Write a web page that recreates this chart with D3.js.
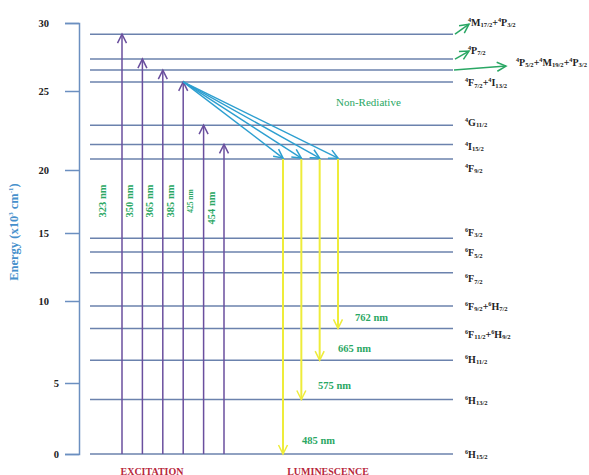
<!DOCTYPE html>
<html>
<head>
<meta charset="utf-8">
<script src="https://cdn.jsdelivr.net/npm/d3@7"></script>
<style>
  body { margin: 0; background: #fff; }
  text { font-family: "Liberation Serif", "DejaVu Serif", serif; }
</style>
</head>
<body>
<script>
// energy levels (x10^3 cm-1)
var levelTerms = ["6H15/2", "6H13/2", "6H11/2", "6F11/2+6H9/2", "6F9/2+6H7/2", "6F7/2", "6F5/2", "6F3/2",
  "4F9/2", "4I15/2", "4G11/2", "4F7/2+4I13/2", "4P5/2+4M19/2+4P3/2", "4P7/2", "4M17/2+4P3/2"];
var levelEnergy = [0, 3.84, 6.39, 8.33, 9.69, 12.07, 13.61, 14.61, 20.69, 21.62, 22.84, 25.67, 26.54, 27.35, 29.18];

// excitation: wavelength (nm) -> upper level index
var excWavelength = ["323", "350", "365", "385", "425", "454"];
var excLevel = [14, 13, 12, 11, 10, 9];

// luminescence from 4F9/2 (index 8) -> lower level index
var emWavelength = ["485", "575", "665", "762"];
var emLevel = [0, 1, 2, 3];
var emFrom = 8;

var yTicks = [0, 5, 10, 15, 20, 25, 30];

var width = 589, height = 475;

var svg = d3.select("body").append("svg")
  .attr("width", width)
  .attr("height", height);

// the hand drawn axis is not evenly spaced, so piecewise scale
var y = d3.scaleLinear()
  .domain(yTicks)
  .range([454, 383, 301, 233, 170, 91, 23]);

var xExc = d3.scalePoint().domain(excWavelength).range([122, 224]);
var xEm = d3.scalePoint().domain(emWavelength).range([283, 338]);

var colors = {
  purple: "#6a4f9e",
  blue: "#2d9fd0",
  yellow: "#eeec3a",
  green: "#2aa764"
};

// open chevron arrow heads
var defs = svg.append("defs");
Object.keys(colors).forEach(function(k) {
  defs.append("marker")
    .attr("id", "arrow-" + k)
    .attr("viewBox", "-12 -7 14 14")
    .attr("refX", 0).attr("refY", 0)
    .attr("markerWidth", 14).attr("markerHeight", 14)
    .attr("markerUnits", "userSpaceOnUse")
    .attr("orient", "auto")
    .append("path")
    .attr("d", "M-9,-4.5L0,0L-9,4.5")
    .attr("fill", "none")
    .attr("stroke", colors[k])
    .attr("stroke-width", 1.5);
});

// y axis
var axis = svg.append("g")
  .attr("transform", "translate(79,0)")
  .call(d3.axisLeft(y).tickValues(yTicks).tickSize(14).tickPadding(16));
axis.select(".domain").attr("stroke", "#6b8fc0").attr("stroke-width", 1.5);
axis.selectAll(".tick line").attr("stroke", "#6b8fc0").attr("stroke-width", 1.5);
axis.selectAll(".tick text")
  .attr("font-family", "Liberation Serif")
  .attr("font-weight", "bold")
  .attr("font-size", 10.5)
  .attr("fill", "#222")
  .attr("dx", function(d) { return d < 10 ? 10 : 0; });

var ylab = svg.append("text")
  .attr("transform", "translate(18,232)rotate(-90)")
  .attr("text-anchor", "middle")
  .attr("font-weight", "bold")
  .attr("font-size", 12.5)
  .attr("fill", "#4690cc");
ylab.append("tspan").text("Energy (x10");
ylab.append("tspan").attr("font-size", 7).attr("dy", -5).text("3");
ylab.append("tspan").attr("dy", 5).text(" cm");
ylab.append("tspan").attr("font-size", 7).attr("dy", -5).text("-1");
ylab.append("tspan").attr("dy", 5).text(")");

// level lines
svg.append("g").selectAll("line")
  .data(levelEnergy)
  .enter().append("line")
  .attr("x1", 90).attr("x2", 453)
  .attr("y1", function(d) { return y(d); })
  .attr("y2", function(d) { return y(d); })
  .attr("stroke", "#6b82ad")
  .attr("stroke-width", 1.5);

// term labels with super/subscripts
function termLabel(t, str, size) {
  var shift = 0;
  function part(txt, fs, off) {
    t.append("tspan").attr("font-size", fs).attr("dy", off - shift).text(txt);
    shift = off;
  }
  str.split("+").forEach(function(p, i) {
    var m = p.match(/^(\d)([A-Z])(.+)$/);
    if (i > 0) part("+", size, 0);
    part(m[1], size * 0.62, -size * 0.4);
    part(m[2], size, 0);
    part(m[3], size * 0.66, size * 0.15);
  });
}

var labelDy = [0, 1, -1, 6, 0, 6, 1, -6, 9, 2, -3, 1, -8, -9, -12];
var labelX = function(i) { return i === 12 ? 516 : (i > 12 ? 468 : 465); };

svg.append("g").selectAll("text")
  .data(levelTerms)
  .enter().append("text")
  .attr("x", function(d, i) { return labelX(i); })
  .attr("y", function(d, i) { return y(levelEnergy[i]) + labelDy[i] + 3.5; })
  .attr("font-weight", "bold")
  .attr("fill", "#222")
  .each(function(d) { termLabel(d3.select(this), d, 10); });

// green arrows out of the top levels
var topArrows = [
  { i: 14, x1: 455, dx: 14, dy: -10 },
  { i: 13, x1: 455, dx: 14, dy: -8 },
  { i: 12, x1: 454, dx: 52, dy: -4 }
];
svg.append("g").selectAll("line")
  .data(topArrows)
  .enter().append("line")
  .attr("x1", function(d) { return d.x1; })
  .attr("y1", function(d) { return y(levelEnergy[d.i]); })
  .attr("x2", function(d) { return d.x1 + d.dx; })
  .attr("y2", function(d) { return y(levelEnergy[d.i]) + d.dy; })
  .attr("stroke", colors.green)
  .attr("stroke-width", 1.5)
  .attr("marker-end", "url(#arrow-green)");

// excitation arrows
svg.append("g").selectAll("line")
  .data(excWavelength)
  .enter().append("line")
  .attr("x1", function(d) { return xExc(d); })
  .attr("x2", function(d) { return xExc(d); })
  .attr("y1", y(0))
  .attr("y2", function(d, i) { return y(levelEnergy[excLevel[i]]); })
  .attr("stroke", colors.purple)
  .attr("stroke-width", 1.5)
  .attr("marker-end", "url(#arrow-purple)");

svg.append("g").selectAll("text")
  .data(excWavelength)
  .enter().append("text")
  .attr("transform", function(d, i) {
    var off = i === 0 ? 20 : 13;
    return "translate(" + (xExc(d) - off) + "," + (i === 5 ? 208 : 201) + ")rotate(-90)";
  })
  .attr("text-anchor", "middle")
  .attr("dy", "0.35em")
  .attr("font-weight", "bold")
  .attr("font-size", function(d) { return d === "425" ? 7.5 : 10.5; })
  .attr("fill", colors.green)
  .text(function(d) { return d + " nm"; });

// non-radiative relaxation 4F7/2 -> 4F9/2
var srcX = xExc("385"), srcY = y(levelEnergy[11]);
svg.append("g").selectAll("line")
  .data(emWavelength)
  .enter().append("line")
  .attr("x1", srcX)
  .attr("y1", srcY)
  .attr("x2", function(d) { return xEm(d); })
  .attr("y2", y(levelEnergy[emFrom]) - 1)
  .attr("stroke", colors.blue)
  .attr("stroke-width", 1.4)
  .attr("marker-end", "url(#arrow-blue)");

svg.append("text")
  .attr("x", 336).attr("y", 106)
  .attr("font-size", 11)
  .attr("fill", colors.green)
  .text("Non-Rediative");

// luminescence arrows
svg.append("g").selectAll("line")
  .data(emWavelength)
  .enter().append("line")
  .attr("x1", function(d) { return xEm(d); })
  .attr("x2", function(d) { return xEm(d); })
  .attr("y1", y(levelEnergy[emFrom]))
  .attr("y2", function(d, i) { return y(levelEnergy[emLevel[i]]); })
  .attr("stroke", colors.yellow)
  .attr("stroke-width", 2)
  .attr("marker-end", "url(#arrow-yellow)");

var emLabelPos = [[302, 440], [318, 385], [338, 348], [355, 317]];
svg.append("g").selectAll("text")
  .data(emWavelength)
  .enter().append("text")
  .attr("x", function(d, i) { return emLabelPos[i][0]; })
  .attr("y", function(d, i) { return emLabelPos[i][1]; })
  .attr("dy", "0.35em")
  .attr("font-weight", "bold")
  .attr("font-size", 10.5)
  .attr("fill", colors.green)
  .text(function(d) { return d + " nm"; });

// bottom captions
svg.append("text")
  .attr("x", 152).attr("y", 471).attr("dy", "0.35em")
  .attr("text-anchor", "middle")
  .attr("font-weight", "bold").attr("font-size", 10)
  .attr("fill", "#b8283c")
  .text("EXCITATION");
svg.append("text")
  .attr("x", 328).attr("y", 471).attr("dy", "0.35em")
  .attr("text-anchor", "middle")
  .attr("font-weight", "bold").attr("font-size", 10)
  .attr("fill", "#b8283c")
  .text("LUMINESCENCE");
</script>
</body>
</html>
